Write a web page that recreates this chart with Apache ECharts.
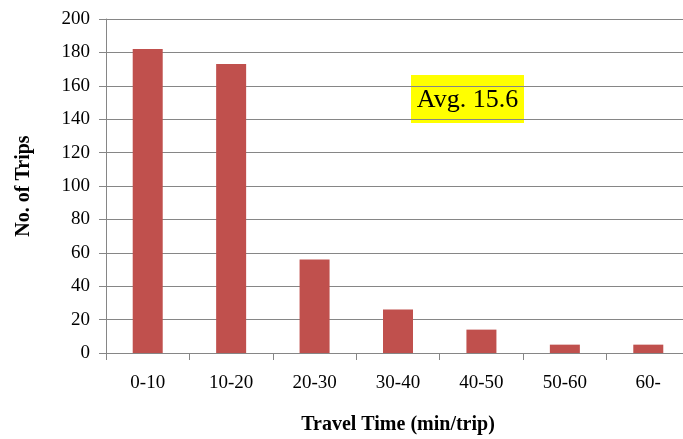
<!DOCTYPE html>
<html>
<head>
<meta charset="utf-8">
<script src="https://cdn.jsdelivr.net/npm/echarts@6/dist/echarts.min.js"></script>
<style>
  html, body { margin: 0; padding: 0; background: #fff; }
  #chart { width: 683px; height: 439px; }
</style>
</head>
<body>
<div id="chart"></div>
<script>
// Trip counts by travel time band
const categories = ['0-10', '10-20', '20-30', '30-40', '40-50', '50-60', '60-'];
const trips = [182, 173, 56, 26, 14, 5, 5];
const yTicks = { min: 0, max: 200, interval: 20 };
const avgLabel = 'Avg. 15.6';

const serif = '"Liberation Serif", "Times New Roman", serif';
const chart = echarts.init(document.getElementById('chart'));

chart.setOption({
  animation: false,
  grid: { left: 106, right: -7, top: 19, bottom: 86, outerBoundsMode: 'none', containLabel: false },
  xAxis: {
    type: 'category',
    data: categories,
    name: 'Travel Time (min/trip)',
    nameLocation: 'middle',
    nameGap: 62,
    nameTextStyle: { fontFamily: serif, fontSize: 20, fontWeight: 'bold', color: '#000' },
    axisLine: { lineStyle: { color: '#868686', width: 1 } },
    axisTick: { show: true, length: 7, lineStyle: { color: '#868686' } },
    axisLabel: { fontFamily: serif, fontSize: 19, color: '#000', margin: 21 }
  },
  yAxis: {
    type: 'value',
    min: yTicks.min,
    max: yTicks.max,
    interval: yTicks.interval,
    name: 'No. of Trips',
    nameLocation: 'middle',
    nameGap: 72,
    nameTextStyle: { fontFamily: serif, fontSize: 20, fontWeight: 'bold', color: '#000' },
    axisLine: { show: true, lineStyle: { color: '#868686', width: 1 } },
    axisTick: { show: true, length: 7, lineStyle: { color: '#868686' } },
    axisLabel: { fontFamily: serif, fontSize: 19, color: '#000', margin: 16 },
    splitLine: { lineStyle: { color: '#868686', width: 1 } }
  },
  series: [{
    type: 'bar',
    data: trips,
    barWidth: 30,
    itemStyle: { color: '#C0504D' }
  }],
  graphic: [{
    type: 'group',
    left: 411,
    top: 75,
    children: [
      { type: 'rect', shape: { x: 0, y: 0, width: 113, height: 48 }, style: { fill: '#ffff00' } },
      {
        type: 'text',
        style: {
          text: avgLabel, x: 56.5, y: 25, align: 'center', verticalAlign: 'middle',
          font: '26px ' + serif, fill: '#000'
        }
      }
    ]
  }]
});
</script>
</body>
</html>
